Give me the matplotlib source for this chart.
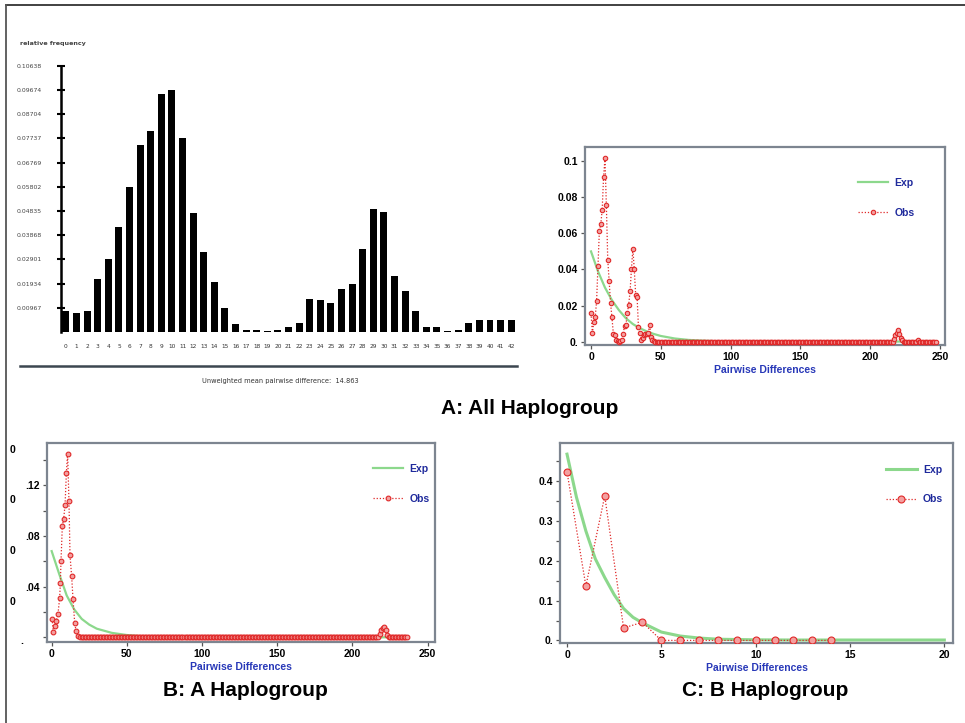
import numpy as np
import matplotlib.pyplot as plt
from matplotlib import font_manager
from matplotlib.lines import Line2D
import matplotlib.transforms as mtransforms

# ---- histogram (relative frequency of pairwise differences) ----
hist_k = list(range(0, 43))
hist_freq = [0.0084, 0.0075, 0.0084, 0.0210, 0.0290, 0.0420, 0.0580, 0.0747, 0.0803, 0.0949,
             0.0967, 0.0774, 0.0475, 0.0318, 0.0199, 0.0095, 0.0032, 0.0008, 0.0006, 0.0002,
             0.0009, 0.0020, 0.0034, 0.0130, 0.0128, 0.0114, 0.0171, 0.0191, 0.0331, 0.0492,
             0.0480, 0.0223, 0.0165, 0.0083, 0.0021, 0.0021, 0.0004, 0.0008, 0.0034, 0.0048,
             0.0047, 0.0048, 0.0048]
hist_ylabels = ["0.00967", "0.01934", "0.02901", "0.03868", "0.04835", "0.05802",
                "0.06769", "0.07737", "0.08704", "0.09674", "0.10638"]
mean_text = "Unweighted mean pairwise difference:  14.863"

# ---- A: all haplogroups ----
obs_a_head = [0.0157, 0.0050, 0.0110, 0.0135, 0.0225, 0.0420, 0.0615, 0.0650, 0.0730, 0.0910,
              0.1015, 0.0755, 0.0455, 0.0335, 0.0215, 0.0135, 0.0045, 0.0035, 0.0010, 0.0002,
              0.0000, 0.0005, 0.0010, 0.0045, 0.0085, 0.0090, 0.0160, 0.0205, 0.0280, 0.0405,
              0.0515, 0.0400, 0.0258, 0.0250, 0.0080, 0.0050, 0.0012, 0.0020, 0.0035, 0.0042,
              0.0045, 0.0050, 0.0095, 0.0028, 0.0010, 0.0003]
obs_a_bump_k = [217, 218, 219, 220, 221, 222, 223, 234]
obs_a_bump = [0.0015, 0.0037, 0.0050, 0.0065, 0.0045, 0.0020, 0.0010, 0.0010]
obs_a_max_k = 247
exp_a_x = [0, 5, 10, 15, 20, 25, 30, 35, 40, 45, 50, 60, 70, 80, 90, 100, 150, 200, 247]
exp_a_y = [0.050, 0.039, 0.030, 0.023, 0.0175, 0.013, 0.0098, 0.0075, 0.0057, 0.0043,
           0.0032, 0.0018, 0.0010, 0.0006, 0.0003, 0.0002, 0.0001, 0.0001, 0.0001]

# ---- B: haplogroup A ----
obs_b_head_x = [0.4, 1.0, 2.2, 3.0, 4.2, 5.3, 5.8, 6.2, 7.1, 8.0, 8.9, 9.8, 10.6, 11.5,
                12.2, 13.3, 14.2, 15.3, 16.2, 17.7, 19]
obs_b_head_y = [0.0145, 0.0045, 0.0092, 0.0130, 0.0184, 0.0310, 0.0430, 0.0600, 0.0880,
                0.0934, 0.1045, 0.1300, 0.1450, 0.1076, 0.0647, 0.0480, 0.0300, 0.0116,
                0.0050, 0.0010, 0.0]
obs_b_bump_k = [218, 219, 220, 221, 222, 223]
obs_b_bump = [0.0030, 0.0060, 0.0075, 0.0084, 0.0058, 0.0020]
obs_b_max_k = 236
exp_b_x = [0, 5, 10, 15, 20, 25, 30, 40, 50, 58, 70, 100, 150, 200, 236]
exp_b_y = [0.068, 0.050, 0.033, 0.022, 0.0145, 0.0100, 0.0068, 0.0035, 0.0018, 0.0010,
           0.0004, 0.0001, 0.0, 0.0, 0.0]

# ---- C: haplogroup B ----
obs_c_x = list(range(0, 15))
obs_c_y = [0.4236, 0.1367, 0.3629, 0.0312, 0.0456, 0, 0, 0, 0, 0, 0, 0, 0, 0, 0]
exp_c_x = [0, 0.5, 1, 1.5, 2, 2.5, 3, 3.5, 4, 5, 6, 7, 8, 10, 12, 15, 20]
exp_c_y = [0.468, 0.360, 0.275, 0.205, 0.158, 0.115, 0.080, 0.058, 0.044, 0.021, 0.011,
           0.006, 0.003, 0.0015, 0.001, 0.001, 0.001]

titles = ["A: All Haplogroup", "B: A Haplogroup", "C: B Haplogroup"]

names = {f.name for f in font_manager.fontManager.ttflist}
if "Liberation Sans Narrow" in names:
    title_font, title_size = "Liberation Sans Narrow", 18
else:
    title_font, title_size = "Liberation Sans", 15
tick_font = "Liberation Sans"

RED = "#e02828"
GREEN = "#8cd88c"
NAVY = "#1f2a9c"
SPINE = "#7d8590"

W, H = 965, 723
fig = plt.figure(figsize=(W / 100, H / 100), dpi=100)


def px_axes(left, top, right, bottom):
    return fig.add_axes([left / W, 1 - bottom / H, (right - left) / W, (bottom - top) / H])


def full_series(head_x, head_y, start_k, max_k, bump_k, bump_y):
    tail_x = np.arange(start_k, max_k + 1)
    tail_y = np.zeros(len(tail_x))
    for k, v in zip(bump_k, bump_y):
        tail_y[tail_x == k] = v
    return np.concatenate([head_x, tail_x]), np.concatenate([head_y, tail_y])


def mismatch_panel(ax, exp_x, exp_y, obs_x, obs_y, ms, lw, legend_xy):
    ax.plot(exp_x, exp_y, color=GREEN, lw=lw, label="Exp", zorder=2)
    ax.plot(obs_x, obs_y, color=RED, lw=0.9, ls=(0, (1, 1.5)), marker="o", ms=ms,
            mfc="#f3a0a0", mec=RED, mew=0.8, label="Obs", zorder=3)
    for s in ax.spines.values():
        s.set_color(SPINE)
        s.set_linewidth(1.6)
    ax.tick_params(direction="out", length=3, width=0.9, color="#555555", pad=2)
    for lab in ax.get_xticklabels() + ax.get_yticklabels():
        lab.set_fontfamily(tick_font)
        lab.set_fontweight("bold")
        lab.set_fontsize(7.5)
    ax.set_xlabel("Pairwise Differences", fontfamily=tick_font, fontweight="bold",
                  fontsize=7.5, color="#2838b8", labelpad=2)
    leg = ax.legend(loc="upper left", bbox_to_anchor=legend_xy, frameon=False, borderpad=0,
                    handlelength=2.9, handletextpad=0.6, labelspacing=1.9, numpoints=1,
                    prop={"family": tick_font, "weight": "bold", "size": 7.5})
    for t in leg.get_texts():
        t.set_color(NAVY)


# ---------------- histogram ----------------
axh = px_axes(61, 65.7, 516.5, 331.9)
axh.bar(hist_k, hist_freq, width=0.66, color="black")
axh.set_xlim(-0.47, 42.5)
axh.set_ylim(0, 0.10638)
axh.set_xticks(hist_k)
axh.set_xticklabels([str(k) for k in hist_k], fontsize=4.2, color="#333333")
axh.set_yticks([float(v) for v in hist_ylabels])
axh.set_yticklabels(hist_ylabels, fontsize=4.4, color="#444444")
axh.tick_params(axis="x", length=0, pad=9)
axh.tick_params(axis="y", direction="inout", length=6, width=1.5, pad=11)
for side in ["top", "right", "bottom"]:
    axh.spines[side].set_visible(False)
axh.spines["left"].set_linewidth(1.8)
axh.patch.set_alpha(0)
fig.text(20 / W, 1 - 43 / H, "relative frequency", fontsize=4.6, fontweight="bold",
         color="#444444", va="center")
fig.add_artist(Line2D([20 / W, 517 / W], [1 - 366 / H, 1 - 366 / H], color="#3c4650", lw=1.8))
fig.text(280 / W, 1 - 381 / H, mean_text, fontsize=4.8, color="#333333", ha="center", va="center")

# ---------------- A ----------------
axa = px_axes(585, 147, 945, 345)
axa.set_xlim(-4.3, 253.6)
axa.set_ylim(-0.0018, 0.1078)
axa.set_xticks([0, 50, 100, 150, 200, 250])
axa.set_yticks([0, 0.02, 0.04, 0.06, 0.08, 0.1])
axa.set_yticklabels(["0.", "0.02", "0.04", "0.06", "0.08", "0.1"])
oa_x, oa_y = full_series(np.arange(len(obs_a_head)), obs_a_head, len(obs_a_head),
                         obs_a_max_k, obs_a_bump_k, obs_a_bump)
mismatch_panel(axa, exp_a_x, exp_a_y, oa_x, oa_y, 3.2, 1.6, (0.744, 0.87))

# ---------------- B ----------------
axb = px_axes(47, 443, 435, 642)
axb.set_xlim(-3.1, 254.9)
axb.set_ylim(-0.0037, 0.1533)
axb.set_xticks([0, 50, 100, 150, 200, 250])
axb.set_yticks(np.arange(0, 0.16, 0.02))
axb.set_yticklabels(["", "", ".04", "", ".08", "", ".12", ""])
ob_x, ob_y = full_series(obs_b_head_x, obs_b_head_y, 20, obs_b_max_k, obs_b_bump_k, obs_b_bump)
mismatch_panel(axb, exp_b_x, exp_b_y, ob_x, ob_y, 3.4, 1.6, (0.827, 0.92))
trans_b = mtransforms.blended_transform_factory(axb.transAxes, axb.transData)
for yv in [0.028, 0.068, 0.108, 0.148]:
    axb.text(-34 / 388, yv, "0", transform=trans_b, ha="center", va="center",
             fontfamily=tick_font, fontweight="bold", fontsize=7.5)
axb.text(-25 / 388, -0.003, ".", transform=trans_b, ha="center", va="center",
         fontfamily=tick_font, fontweight="bold", fontsize=7.5)

# ---------------- C ----------------
axc = px_axes(560.4, 443.4, 953, 643)
axc.set_xlim(-0.35, 20.46)
axc.set_ylim(-0.0065, 0.495)
axc.set_xticks([0, 5, 10, 15, 20])
axc.set_yticks(np.arange(0, 0.5, 0.05))
axc.set_yticklabels(["0.", "", "0.1", "", "0.2", "", "0.3", "", "0.4", ""])
mismatch_panel(axc, exp_c_x, exp_c_y, obs_c_x, obs_c_y, 5, 2.2, (0.817, 0.92))

# ---------------- titles and frame ----------------
for (cx, cy), t in zip([(530, 408), (245, 690), (765, 690)], titles):
    fig.text(cx / W, 1 - cy / H, t, fontfamily=title_font, fontweight="bold",
             fontsize=title_size, ha="center", va="center")
fig.add_artist(Line2D([6 / W, 1], [1 - 5 / H, 1 - 5 / H], color="#333333", lw=1.3))
fig.add_artist(Line2D([6 / W, 6 / W], [0, 1 - 5 / H], color="#555555", lw=1.3))

fig.savefig("out.png", dpi=100)
